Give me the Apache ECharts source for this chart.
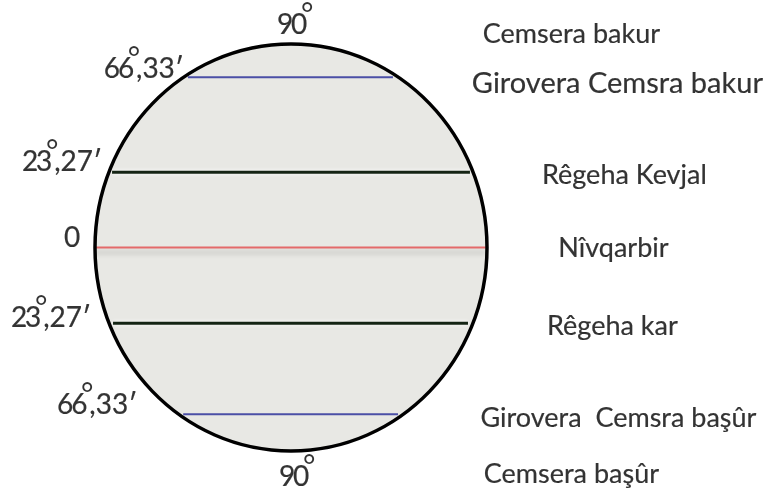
<!DOCTYPE html>
<html>
<head>
<meta charset="utf-8">
<script src="https://cdn.jsdelivr.net/npm/echarts@6/dist/echarts.min.js"></script>
<style>
  html, body { margin: 0; padding: 0; background: #fff; }
  #chart { width: 775px; height: 494px; }
</style>
</head>
<body>
<div id="chart"></div>
<script>
// parallels from north pole to south pole, height on the disc (radius = 1)
const parallelNames = ['Cemsera bakur', 'Girovera Cemsra bakur', 'Rêgeha Kevjal', 'Nîvqarbir', 'Rêgeha kar', 'Girovera  Cemsra başûr', 'Cemsera başûr'];
const degreeLabels = ['90°', '66°,33′', '23°,27′', '0', '23°,27′', '66°,33′', '90°'];
const latitudeY = [1, 0.836, 0.37, 0, -0.372, -0.82, -1];
// ends of the drawn circles of latitude (poles have none)
const lineFrom = [null, -0.526, -0.913, -1, -0.908, -0.55, null];
const lineTo = [null, 0.52, 0.913, 0.995, 0.903, 0.546, null];

const FONT = 'Lato';
const lineStyles = [
  null,
  { color: '#4b4fa6', width: 2 },
  { color: '#142414', width: 3, shadowColor: '#ffffff', shadowBlur: 4 },
  { color: '#e46a6a', width: 2, shadowColor: 'rgba(0,0,0,0.22)', shadowBlur: 5, shadowOffsetY: 5 },
  { color: '#142414', width: 3, shadowColor: '#ffffff', shadowBlur: 4 },
  { color: '#4b4fa6', width: 2 },
  null
];
// label placement relative to its anchor, in px
const leftOffset = [[2, -19], [-44, -8], [-50, -10], [-23, -10], [-62, -5], [-86, -9], [4, 26]];
const rightOffset = [[-43, -10], [3, 6], [10, 3], [-1, 1], [-2, 3], [4, 4], [-43, 23]];
const rightSize = [27, 29, 27, 27, 27, 27, 27];
const rightX = 1.65;

const chart = echarts.init(document.getElementById('chart'));

// "66°,33′" -> rich text, degree sign raised over the digit before it
const richDeg = (s) => {
  const parts = s.split('°');
  if (parts.length === 1) return '{n|' + s + '}';
  const head = parts[0];
  const tail = parts[1];
  return (head.length > 1 ? '{n|' + head.slice(0, -1) + '}' : '') +
    '{m|' + head.slice(-1) + '}{d|°}' + (tail ? '{n|' + tail + '}' : '');
};

const ink = { color: '#000', textBorderColor: '#000', textBorderWidth: 0.2 };

const globe = (fill) => ({
  type: 'custom',
  clip: false,
  z: fill ? 1 : 5,
  silent: true,
  data: [[0, 0]],
  renderItem: (params, api) => {
    const c = api.coord([0, 0]);
    const s = api.size([1, 1]);
    return {
      type: 'ellipse',
      shape: { cx: c[0], cy: c[1], rx: s[0], ry: s[1] },
      style: fill ? { fill: '#e8e8e4', stroke: null } : { fill: null, stroke: '#000', lineWidth: 3.5 }
    };
  }
});

const parallels = [];
latitudeY.forEach((y, i) => {
  if (lineFrom[i] == null) return;
  parallels.push({
    type: 'line',
    z: 3,
    silent: true,
    symbol: 'none',
    data: [[lineFrom[i], y], [lineTo[i], y]],
    lineStyle: lineStyles[i]
  });
});

chart.setOption({
  animation: false,
  grid: { left: 95, right: 288, top: 44, bottom: 43 },
  xAxis: { type: 'value', min: -1, max: 1, show: false },
  yAxis: { type: 'value', min: -1, max: 1, show: false },
  series: [
    globe(true),
    ...parallels,
    globe(false),
    {
      type: 'scatter',
      clip: false,
      silent: true,
      symbolSize: 0,
      z: 6,
      data: latitudeY.map((y, i) => ({
        value: [lineFrom[i] == null ? 0 : lineFrom[i], y],
        label: { offset: leftOffset[i] }
      })),
      label: {
        show: true,
        position: 'inside',
        formatter: (p) => richDeg(degreeLabels[p.dataIndex]),
        rich: {
          n: { fontFamily: FONT, fontSize: 28, lineHeight: 50, ...ink },
          m: { fontFamily: FONT, fontSize: 28, lineHeight: 50, width: 12, ...ink },
          d: { fontFamily: FONT, fontSize: 30, lineHeight: 30, width: 4, verticalAlign: 'top', color: '#000' }
        }
      }
    },
    {
      type: 'scatter',
      clip: false,
      silent: true,
      symbolSize: 0,
      z: 6,
      data: latitudeY.map((y, i) => ({
        value: [rightX, y],
        label: { offset: rightOffset[i], fontSize: rightSize[i] }
      })),
      label: {
        show: true,
        position: 'inside',
        fontFamily: FONT,
        fontSize: 27,
        ...ink,
        formatter: (p) => parallelNames[p.dataIndex]
      }
    }
  ]
});
</script>
</body>
</html>
